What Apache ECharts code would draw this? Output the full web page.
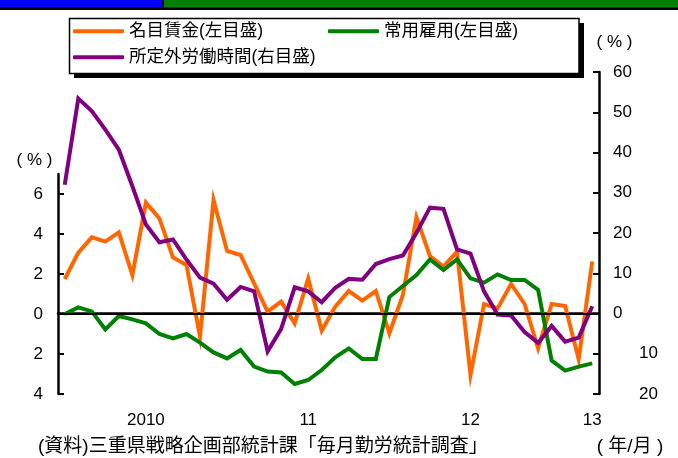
<!DOCTYPE html>
<html>
<head>
<meta charset="utf-8">
<script src="https://cdn.jsdelivr.net/npm/echarts@6.0.0/dist/echarts.min.js"></script>
<style>
  html, body { margin: 0; padding: 0; background: #fff; }
  #chart { width: 678px; height: 458px; }
</style>
</head>
<body>
<div id="chart"></div>
<script>
// 2010/1 - 2013/4
const months = [
  '10/1', '10/2', '10/3', '10/4', '10/5', '10/6', '10/7', '10/8', '10/9', '10/10', '10/11', '10/12',
  '11/1', '11/2', '11/3', '11/4', '11/5', '11/6', '11/7', '11/8', '11/9', '11/10', '11/11', '11/12',
  '12/1', '12/2', '12/3', '12/4', '12/5', '12/6', '12/7', '12/8', '12/9', '12/10', '12/11', '12/12',
  '13/1', '13/2', '13/3', '13/4'
];
const yearLabels = ['2010', '11', '12', '13'];
const yearLabelIndex = [6, 18, 30, 39];

// 名目賃金 (左目盛)
const wage = [1.75, 3.07, 3.83, 3.62, 4.08, 1.95, 5.57, 4.78, 2.83, 2.45, -1.13, 5.7,
  3.15, 2.95, 1.53, 0.12, 0.62, -0.47, 1.78, -0.83, 0.37, 1.15, 0.67, 1.15,
  -0.97, 0.95, 4.83, 2.9, 2.37, 3.12, -3.05, 0.5, 0.28, 1.5, 0.5, -1.72,
  0.5, 0.4, -2.27, 2.62];
// 常用雇用 (左目盛)
const employment = [0, 0.33, 0.13, -0.77, -0.1, -0.27, -0.47, -1.0, -1.22, -1.0, -1.43, -1.92,
  -2.22, -1.8, -2.63, -2.88, -2.92, -3.5, -3.3, -2.8, -2.17, -1.72, -2.25, -2.25,
  0.85, 1.4, 1.95, 2.73, 2.2, 2.73, 1.78, 1.57, 1.98, 1.7, 1.7, 1.2,
  -2.33, -2.83, -2.63, -2.47];
// 所定外労働時間 (右目盛)
const overtime = [32, 53.4, 50.3, 45.7, 40.7, 31.6, 22.1, 17.7, 18.4, 13.4, 8.9, 7.4,
  3.4, 6.6, 5.5, -9.4, -3.8, 6.5, 5.5, 2.8, 6.4, 8.6, 8.4, 12.3,
  13.5, 14.4, 20.0, 26.3, 26.0, 15.9, 14.9, 5.5, -0.25, -0.5, -4.6, -7.3,
  -3.1, -7.0, -6.0, 1.8];

const leftTicks = [-4, -2, 0, 2, 4, 6];

const NUM_FONT = '"Liberation Sans", Arial, "Noto Sans CJK JP", sans-serif';
const JP_FONT = '"Liberation Sans", "Noto Sans CJK JP", sans-serif';

const chart = echarts.init(document.getElementById('chart'));

const legendText = { color: '#000', fontSize: 17.5, fontFamily: JP_FONT };
function legendAt(name, left, top) {
  return {
    data: [name], left: left, top: top, padding: 0,
    icon: 'roundRect', itemWidth: 51, itemHeight: 4, itemGap: 0,
    textStyle: legendText, selectedMode: false
  };
}

const options = {
  animation: false,
  textStyle: { fontFamily: NUM_FONT },
  grid: [
    { left: 58, right: 79, top: 72, bottom: 64 },   // 右目盛 full height
    { left: 58, right: 79, top: 174, bottom: 64 }   // 左目盛 (axis only up to 7)
  ],
  legend: [
    legendAt('名目賃金(左目盛)', 73, 22.5),
    legendAt('常用雇用(左目盛)', 328, 22.5),
    legendAt('所定外労働時間(右目盛)', 73, 48.5)
  ],
  xAxis: [
    {
      type: 'category', gridIndex: 0, data: months, boundaryGap: true,
      axisLine: { lineStyle: { color: '#000', width: 2.5 } },
      axisTick: {
        inside: true, length: 6, lineStyle: { color: '#000', width: 2 },
        interval: (i) => i > 0 && i % 12 === 0
      },
      axisLabel: {
        interval: 0, margin: 18, color: '#000', fontSize: 17, fontFamily: NUM_FONT,
        formatter: (v, i) => {
          const k = yearLabelIndex.indexOf(i);
          return k >= 0 ? yearLabels[k] : '';
        }
      }
    },
    { type: 'category', gridIndex: 1, data: months, boundaryGap: true, show: false }
  ],
  yAxis: [
    {
      type: 'value', gridIndex: 0, position: 'right', min: -20, max: 60, interval: 10,
      axisLine: { show: true, lineStyle: { color: '#000', width: 2.5 } },
      axisTick: { show: true, inside: true, length: 6, lineStyle: { color: '#000', width: 2 } },
      splitLine: { show: false },
      axisLabel: {
        margin: 14, color: '#000', fontSize: 17, fontFamily: NUM_FONT,
        formatter: (v) => v < 0 ? '{neg|' + (-v) + '}' : String(v),
        rich: { neg: { padding: [0, 0, 0, 26], fontSize: 17, color: '#000', fontFamily: NUM_FONT } }
      }
    },
    {
      type: 'value', gridIndex: 1, position: 'left', min: -4, max: 7,
      axisLine: { show: true, lineStyle: { color: '#000', width: 2.5 } },
      axisTick: { show: true, inside: true, length: 6, lineStyle: { color: '#000', width: 2 }, customValues: leftTicks },
      splitLine: { show: false },
      axisLabel: {
        margin: 15, color: '#000', fontSize: 17, fontFamily: NUM_FONT,
        customValues: leftTicks,
        formatter: (v) => String(Math.abs(v))
      }
    }
  ],
  series: [
    {
      name: '名目賃金(左目盛)', type: 'line', xAxisIndex: 1, yAxisIndex: 1, data: wage,
      symbol: 'none', color: '#ff6600',
      lineStyle: { width: 4, join: 'miter' },
      markLine: {
        silent: true, symbol: 'none', label: { show: false },
        lineStyle: { color: '#000', width: 2, type: 'solid' },
        data: [{ yAxis: 0 }]
      }
    },
    {
      name: '常用雇用(左目盛)', type: 'line', xAxisIndex: 1, yAxisIndex: 1, data: employment,
      symbol: 'none', color: '#008000',
      lineStyle: { width: 4, join: 'miter' }
    },
    {
      name: '所定外労働時間(右目盛)', type: 'line', xAxisIndex: 0, yAxisIndex: 0, data: overtime,
      symbol: 'none', color: '#800080',
      lineStyle: { width: 4, join: 'miter' }
    }
  ],
  graphic: [
    // top banner
    { type: 'rect', shape: { x: 0, y: 0, width: 162, height: 8 }, style: { fill: '#0000ff' }, silent: true },
    { type: 'rect', shape: { x: 164, y: 0, width: 514, height: 8 }, style: { fill: '#008000' }, silent: true },
    { type: 'rect', shape: { x: 0, y: 7.5, width: 678, height: 2.5 }, style: { fill: '#000' }, silent: true },
    { type: 'rect', shape: { x: 162, y: 0, width: 2, height: 10 }, style: { fill: '#000' }, silent: true },
    // legend frame with shadow
    { type: 'rect', shape: { x: 74, y: 23, width: 510, height: 55 }, style: { fill: '#000' }, silent: true, z: -1 },
    { type: 'rect', shape: { x: 69.5, y: 18.5, width: 509.5, height: 55 }, style: { fill: '#fff', stroke: '#000', lineWidth: 1.5 }, silent: true, z: 0 },
    // unit labels
    { type: 'text', x: 34.5, y: 160, style: { text: '( % )', fontSize: 17, fontFamily: NUM_FONT, fill: '#000', align: 'center', verticalAlign: 'middle' }, silent: true },
    { type: 'text', x: 614.5, y: 42, style: { text: '( % )', fontSize: 17, fontFamily: NUM_FONT, fill: '#000', align: 'center', verticalAlign: 'middle' }, silent: true },
    // source & unit
    { type: 'text', x: 38, y: 447, style: { text: '(資料)三重県戦略企画部統計課「毎月勤労統計調査」', fontSize: 19, fontFamily: JP_FONT, fill: '#000', align: 'left', verticalAlign: 'middle' }, silent: true },
    { type: 'text', x: 630, y: 447, style: { text: '( 年/月 )', fontSize: 19, fontFamily: JP_FONT, fill: '#000', align: 'center', verticalAlign: 'middle' }, silent: true }
  ]
};

chart.setOption(options);
</script>
</body>
</html>
